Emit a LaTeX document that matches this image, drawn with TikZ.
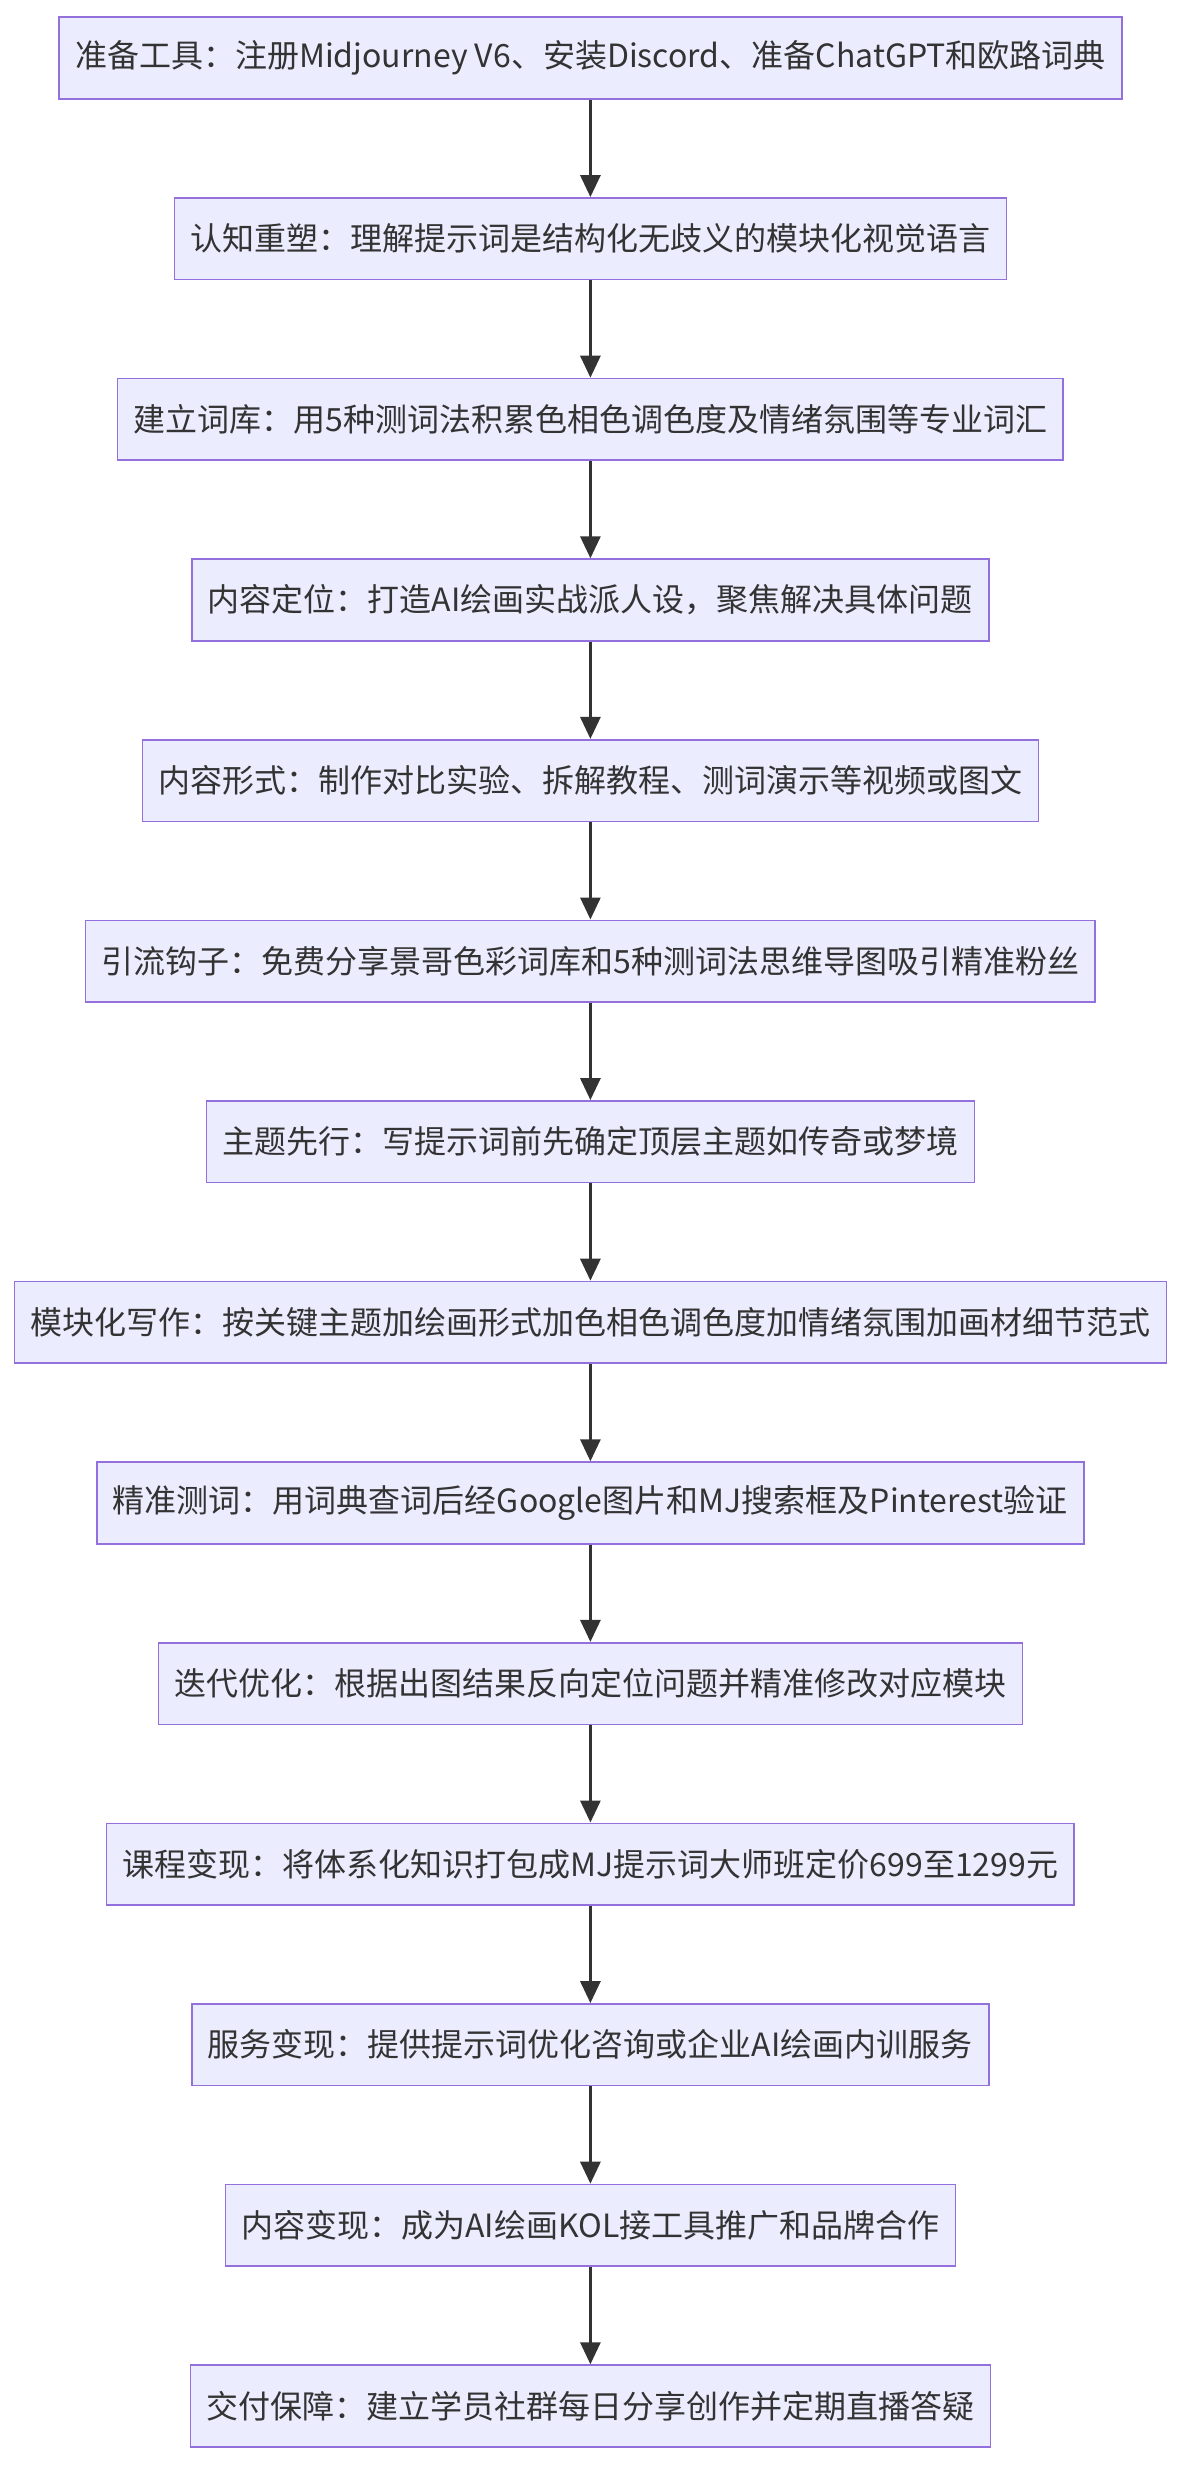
\documentclass[tikz,border=0pt]{standalone}
\usepackage{fontspec}
\setmainfont{Noto Sans CJK SC}
\usetikzlibrary{arrows.meta}
\definecolor{boxfill}{HTML}{ECECFF}
\definecolor{boxline}{HTML}{9370DB}
\definecolor{arr}{HTML}{333333}
\begin{document}
\begin{tikzpicture}[x=1pt,y=-1pt,
  box/.style={draw=boxline,fill=boxfill,line width=1.6pt,minimum height=81.7pt,inner xsep=16pt,font=\fontsize{32}{38}\selectfont,text=arr},
  conn/.style={draw=arr,line width=3pt,-{Triangle[length=22pt,width=20pt]}}]
\useasboundingbox (0,0) rectangle (1184,2472);
\foreach \i/\t in {1/{准备工具：注册Midjourney V6、安装Discord、准备ChatGPT和欧路词典},
2/{认知重塑：理解提示词是结构化无歧义的模块化视觉语言},
3/{建立词库：用5种测词法积累色相色调色度及情绪氛围等专业词汇},
4/{内容定位：打造AI绘画实战派人设，聚焦解决具体问题},
5/{内容形式：制作对比实验、拆解教程、测词演示等视频或图文},
6/{引流钩子：免费分享景哥色彩词库和5种测词法思维导图吸引精准粉丝},
7/{主题先行：写提示词前先确定顶层主题如传奇或梦境},
8/{模块化写作：按关键主题加绘画形式加色相色调色度加情绪氛围加画材细节范式},
9/{精准测词：用词典查词后经Google图片和MJ搜索框及Pinterest验证},
10/{迭代优化：根据出图结果反向定位问题并精准修改对应模块},
11/{课程变现：将体系化知识打包成MJ提示词大师班定价699至1299元},
12/{服务变现：提供提示词优化咨询或企业AI绘画内训服务},
13/{内容变现：成为AI绘画KOL接工具推广和品牌合作},
14/{交付保障：建立学员社群每日分享创作并定期直播答疑}}
{\node[box] (n\i) at (590.4,{17.3+40.85+(\i-1)*180.6}) {\t};}
\foreach \i [evaluate=\i as \j using int(\i+1)] in {1,...,13}
{\draw[conn] (n\i.south) -- (n\j.north);}
\end{tikzpicture}
\end{document}
